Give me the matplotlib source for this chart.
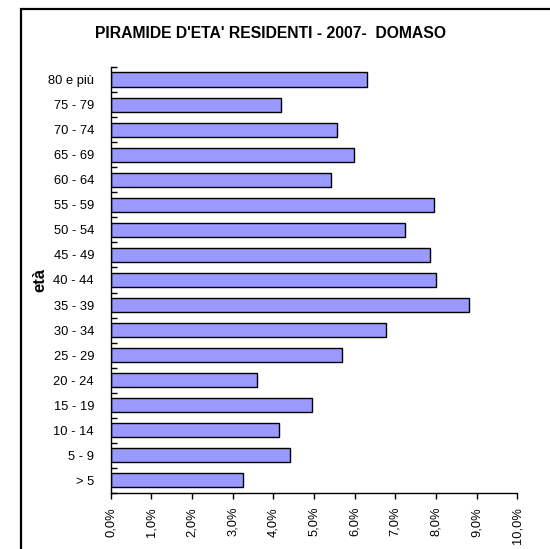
import matplotlib
matplotlib.use("Agg")
import matplotlib.pyplot as plt
from matplotlib.patches import Rectangle
from matplotlib.ticker import FixedLocator, FuncFormatter
import numpy as np

plt.rcParams['font.family'] = ['Liberation Sans', 'DejaVu Sans']

categories = ["> 5", "5 - 9", "10 - 14", "15 - 19", "20 - 24", "25 - 29", "30 - 34",
              "35 - 39", "40 - 44", "45 - 49", "50 - 54", "55 - 59", "60 - 64",
              "65 - 69", "70 - 74", "75 - 79", "80 e più"]
values = [3.25, 4.40, 4.13, 4.95, 3.60, 5.69, 6.78, 8.82, 8.01, 7.86, 7.25, 7.94,
          5.42, 5.98, 5.57, 4.19, 6.30]
x_ticks = [0, 1, 2, 3, 4, 5, 6, 7, 8, 9, 10]
title = "PIRAMIDE D'ETA' RESIDENTI - 2007-  DOMASO"
ylabel = "età"

fig = plt.figure(figsize=(5.5, 5.49), dpi=100)
ax = fig.add_axes([0.2013, 0.102, 0.7392, 0.776])

y = np.arange(len(categories))
ax.barh(y, values, height=0.56, color="#9999FF", edgecolor="black", linewidth=1.0)

ax.set_xlim(0, 10)
ax.set_ylim(-0.5, len(categories) - 0.5)
ax.set_xticks(x_ticks)
ax.xaxis.set_major_formatter(FuncFormatter(lambda v, p: f"{v:.1f}%".replace('.', ',')))
ax.tick_params(axis='x', rotation=90, labelsize=9.3, length=4, width=1, direction='out', pad=6)

ax.set_yticks(y)
ax.set_yticklabels(categories)
ax.tick_params(axis='y', which='major', length=0, labelsize=9.3, pad=12)
ax.yaxis.set_minor_locator(FixedLocator(np.arange(-0.5, len(categories), 1.0)))
ax.tick_params(axis='y', which='minor', length=4, width=1, direction='in')

for s in ['top', 'right']:
    ax.spines[s].set_visible(False)
ax.spines['left'].set_linewidth(1.0)
ax.spines['bottom'].set_linewidth(1.0)

ax.set_ylabel(ylabel, fontsize=12, fontweight='bold')
ax.yaxis.set_label_coords((40 - 110.7) / 406.6, 0.5)
ax.yaxis.label.set_va('center')

fig.text(270.5 / 550, 1 - 33 / 549, title, ha='center', va='center', fontsize=11.3, fontweight='bold')

fig.patches.append(Rectangle((21 / 550, -0.05), 1.2, 1 - 9 / 549 + 0.05, transform=fig.transFigure,
                             fill=False, edgecolor='black', linewidth=1.6, clip_on=False))

fig.savefig("out.png", dpi=100)
